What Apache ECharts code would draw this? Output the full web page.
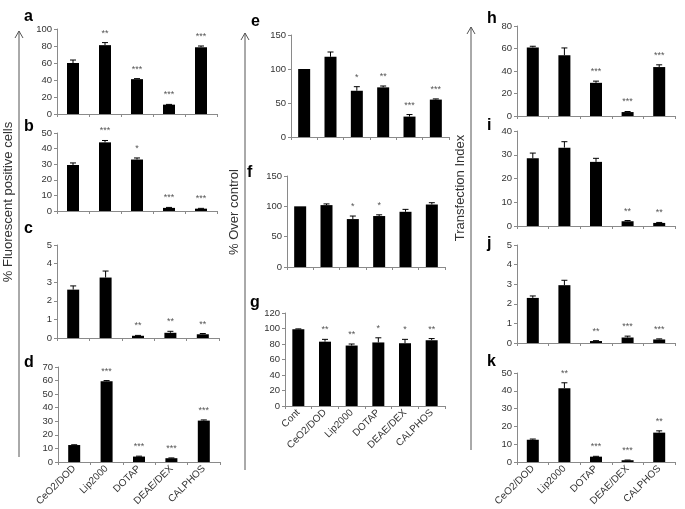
<!DOCTYPE html>
<html><head><meta charset="utf-8">
<script src="https://cdn.jsdelivr.net/npm/echarts@6/dist/echarts.min.js"></script>
<style>html,body{margin:0;padding:0;background:#fff}#c{width:685px;height:509px}</style>
</head><body><div id="c"></div>
<script>
// ---- data ----
const cats5 = ['CeO2/DOD','Lip2000','DOTAP','DEAE/DEX','CALPHOS'];
const cats6 = ['Cont','CeO2/DOD','Lip2000','DOTAP','DEAE/DEX','CALPHOS'];

const aValues = [60, 81, 41, 11, 78.5];
const aErrors = [3.5, 3, 0.6, 0.3, 1.5];
const aStars  = ['', '**', '***', '***', '***'];

const bValues = [29.5, 44, 33, 2, 1.5];
const bErrors = [1.3, 1.2, 1, 0.3, 0.2];
const bStars  = ['', '***', '*', '***', '***'];

const cValues = [2.6, 3.25, 0.12, 0.28, 0.2];
const cErrors = [0.2, 0.35, 0.02, 0.08, 0.04];
const cStars  = ['', '', '**', '**', '**'];

const dValues = [12.5, 59.5, 4, 2.8, 30.5];
const dErrors = [0.2, 0.5, 0.3, 0.2, 0.5];
const dStars  = ['', '***', '***', '***', '***'];

const eValues = [100, 118, 68, 73, 30, 55];
const eErrors = [0, 7, 6, 2, 3, 1];
const eStars  = ['', '', '*', '**', '***', '***'];

const fValues = [100, 102, 79, 84, 91, 103];
const fErrors = [0, 2, 5, 2, 4, 3];
const fStars  = ['', '', '*', '*', '', ''];

const gValues = [99, 83, 78, 82, 81, 85];
const gErrors = [0.5, 3, 2, 6, 5, 2];
const gStars  = ['', '**', '**', '*', '*', '**'];

const hValues = [61, 54, 29.5, 3.5, 43.5];
const hErrors = [1, 6.5, 1.5, 0.5, 2];
const hStars  = ['', '', '***', '***', '***'];

const iValues = [28.5, 33, 27, 2, 1.3];
const iErrors = [2.2, 2.5, 1.5, 0.3, 0.2];
const iStars  = ['', '', '', '**', '**'];

const jValues = [2.3, 2.95, 0.1, 0.28, 0.18];
const jErrors = [0.1, 0.25, 0.02, 0.07, 0.03];
const jStars  = ['', '', '**', '***', '***'];

const kValues = [12.5, 41.5, 3, 1, 16.5];
const kErrors = [0.4, 3, 0.2, 0.1, 1];
const kStars  = ['', '**', '***', '***', '**'];

// axis ranges [max, interval]
const aAxis = [100, 20], bAxis = [50, 10], cAxis = [5, 1], dAxis = [70, 10];
const eAxis = [150, 50], fAxis = [150, 50], gAxis = [120, 20];
const hAxis = [80, 20], iAxis = [40, 10], jAxis = [5, 1], kAxis = [50, 10];

// ---- layout ----
const FONT = 'Liberation Sans';
const panels = [
  {id:'a', cats:cats5, v:aValues, e:aErrors, s:aStars, ax:aAxis, g:{left:57, top:29, width:160, height:85}, lab:[24,19], showX:false},
  {id:'b', cats:cats5, v:bValues, e:bErrors, s:bStars, ax:bAxis, g:{left:57, top:133, width:160, height:78}, lab:[24,129], showX:false},
  {id:'c', cats:cats5, v:cValues, e:cErrors, s:cStars, ax:cAxis, g:{left:57, top:245, width:162, height:93}, lab:[24,231], showX:false},
  {id:'d', cats:cats5, v:dValues, e:dErrors, s:dStars, ax:dAxis, g:{left:58, top:367, width:162, height:95}, lab:[24,365], showX:true},
  {id:'e', cats:cats6, v:eValues, e:eErrors, s:eStars, ax:eAxis, g:{left:291, top:35, width:158, height:102}, lab:[251,24], showX:false},
  {id:'f', cats:cats6, v:fValues, e:fErrors, s:fStars, ax:fAxis, g:{left:287, top:176, width:158, height:91}, lab:[247,175], showX:false},
  {id:'g', cats:cats6, v:gValues, e:gErrors, s:gStars, ax:gAxis, g:{left:285, top:313, width:160, height:93}, lab:[250,305], showX:true},
  {id:'h', cats:cats5, v:hValues, e:hErrors, s:hStars, ax:hAxis, g:{left:517, top:26, width:158, height:90}, lab:[487,21], showX:false},
  {id:'i', cats:cats5, v:iValues, e:iErrors, s:iStars, ax:iAxis, g:{left:517, top:131, width:158, height:95}, lab:[487,128], showX:false},
  {id:'j', cats:cats5, v:jValues, e:jErrors, s:jStars, ax:jAxis, g:{left:517, top:245, width:158, height:98}, lab:[487,246], showX:false},
  {id:'k', cats:cats5, v:kValues, e:kErrors, s:kStars, ax:kAxis, g:{left:517, top:373, width:158, height:89}, lab:[487,364], showX:true}
];

const grid = [], xAxis = [], yAxis = [], series = [], graphic = [];
panels.forEach((p, n) => {
  grid.push(Object.assign({containLabel:false}, p.g));
  xAxis.push({
    type:'category', gridIndex:n, data:p.cats,
    axisLine:{lineStyle:{color:'#8a8a8a', width:1}},
    axisTick:{show:true, length:3, lineStyle:{color:'#8a8a8a'}},
    axisLabel:{show:p.showX, rotate:45, fontFamily:FONT, fontSize:10, color:'#333', margin:5, interval:0}
  });
  yAxis.push({
    type:'value', gridIndex:n, min:0, max:p.ax[0], interval:p.ax[1],
    splitLine:{show:false},
    axisLine:{show:true, lineStyle:{color:'#8a8a8a', width:1}},
    axisTick:{show:true, length:3, lineStyle:{color:'#8a8a8a'}},
    axisLabel:{fontFamily:FONT, fontSize:9.5, color:'#333', margin:5}
  });
  series.push({
    type:'bar', xAxisIndex:n, yAxisIndex:n, data:p.v, barWidth:12,
    itemStyle:{color:'#000'}, silent:true, animation:false
  });
  const errs = p.e, stars = p.s;
  series.push({
    type:'custom', xAxisIndex:n, yAxisIndex:n, animation:false, silent:true,
    data:p.v.map((v, i) => [i, v, errs[i]]),
    renderItem:function(params, api){
      const idx = params.dataIndex;
      const x = api.value(0), v = api.value(1), e = api.value(2);
      const top = api.coord([x, v + e]);
      const base = api.coord([x, v]);
      const ch = [];
      if (e > 0) {
        ch.push({type:'line', shape:{x1:top[0], y1:top[1], x2:base[0], y2:base[1]}, style:{stroke:'#000', lineWidth:1}});
        ch.push({type:'line', shape:{x1:top[0]-3, y1:top[1], x2:top[0]+3, y2:top[1]}, style:{stroke:'#000', lineWidth:1}});
      }
      if (stars[idx]) {
        ch.push({type:'text', x:top[0], y:top[1]-5, style:{text:stars[idx], textAlign:'center', textVerticalAlign:'bottom', fill:'#555', font:'9px ' + FONT}});
      }
      return {type:'group', children:ch};
    }
  });
  graphic.push({type:'text', left:p.lab[0], top:p.lab[1]-10, style:{text:p.id, font:'bold 16px Liberation Sans', fill:'#000'}});
});

// big axis arrows and titles
function arrow(x, y1, y2) {
  graphic.push({type:'line', shape:{x1:x, y1:y1, x2:x, y2:y2}, style:{stroke:'#555', lineWidth:1}});
  graphic.push({type:'polyline', shape:{points:[[x-4, y1+7],[x, y1],[x+4, y1+7]]}, style:{stroke:'#555', lineWidth:1, fill:null}});
}
arrow(19, 31, 457);
arrow(245, 33, 470);
arrow(471, 27, 450);
function vtitle(text, x, y) {
  graphic.push({type:'text', x:x, y:y, rotation:Math.PI/2, style:{text:text, font:'13px Liberation Sans', fill:'#333', textAlign:'center', textVerticalAlign:'middle'}});
}
vtitle('% Fluorescent positive cells', 8, 202);
vtitle('% Over control', 234, 212);
vtitle('Transfection Index', 460, 188);

const chart = echarts.init(document.getElementById('c'), null, {renderer:'canvas'});
chart.setOption({animation:false, grid, xAxis, yAxis, series, graphic});
</script>
</body></html>
